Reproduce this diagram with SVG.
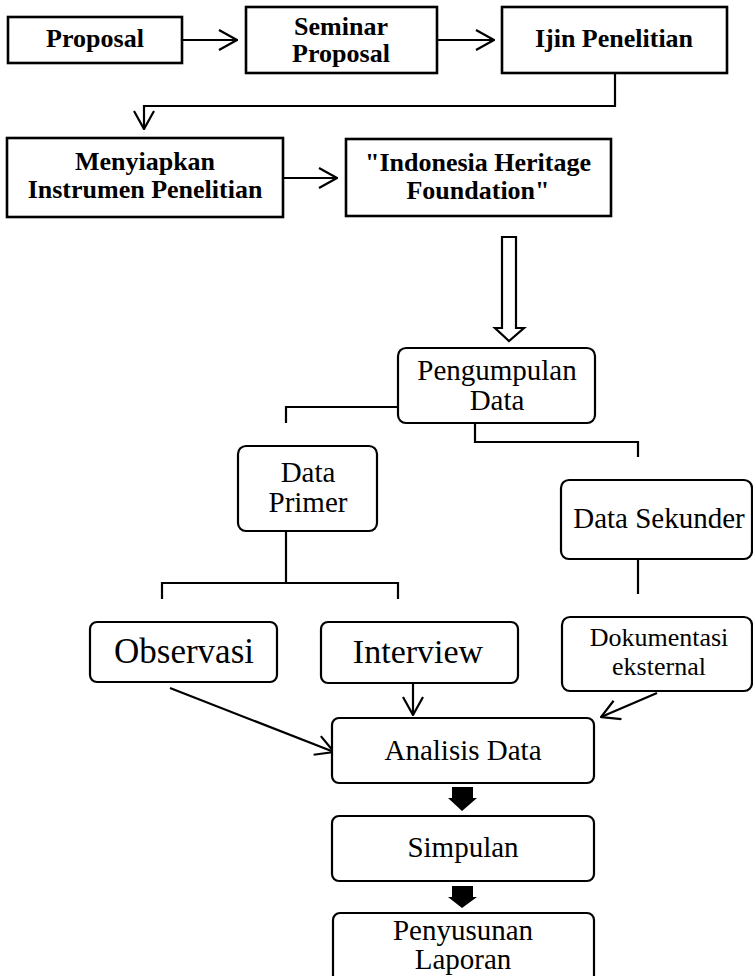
<svg xmlns="http://www.w3.org/2000/svg" width="753" height="976" viewBox="0 0 753 976">
<style>
.bx{fill:#fff;stroke:#000;stroke-width:2.6}
.rb{fill:#fff;stroke:#000;stroke-width:2.2}
.bt{font-family:"Liberation Serif",serif;font-weight:bold;font-size:26px;text-anchor:middle;fill:#000}
.rt{font-family:"Liberation Serif",serif;font-size:29px;text-anchor:middle;fill:#000}
.ln{fill:none;stroke:#000;stroke-width:2.2}
.fa{fill:none;stroke:#e2e2e2;stroke-width:2}
</style>
<defs>
<marker id="chev" viewBox="0 0 20 22" refX="19" refY="11" markerUnits="userSpaceOnUse" markerWidth="20" markerHeight="22" orient="auto">
<path d="M1,1 L19,11 L1,21" fill="none" stroke="#000" stroke-width="2.2"/>
</marker>
</defs>
<rect width="753" height="976" fill="#fff"/>
<g id="connectors">
<line class="ln" x1="182" y1="40" x2="237" y2="40" marker-end="url(#chev)"/>
<line class="ln" x1="437" y1="40" x2="494" y2="40" marker-end="url(#chev)"/>
<path class="ln" d="M615,73 V106 H144 V129" marker-end="url(#chev)"/>
<line class="ln" x1="283" y1="178" x2="337" y2="178" marker-end="url(#chev)"/>
<polygon points="502,237 516,237 516,328 524,328 509,341 495,328 502,328" fill="#fff" stroke="#000" stroke-width="2.2"/>
<path class="fa" d="M398,407 H475 V423"/>
<path class="ln" d="M398,407 H286 V423"/>
<path class="ln" d="M475,423 V442 H638 V457"/>
<path class="fa" d="M286,513 V531"/>
<path class="ln" d="M286,531 V583"/>
<path class="ln" d="M162,599 V583 H398 V599"/>
<path class="fa" d="M638,540 V559"/>
<path class="ln" d="M638,559 V594"/>
<line class="ln" x1="170" y1="688" x2="334" y2="752" marker-end="url(#chev)"/>
<line class="ln" x1="413" y1="684" x2="413" y2="715" marker-end="url(#chev)"/>
<line class="ln" x1="657" y1="693" x2="601" y2="717" marker-end="url(#chev)"/>
<polygon points="452,787 473,787 473,798 477,798 462,811 448,798 452,798" fill="#000"/>
<polygon points="452,886 473,886 473,897 477,897 462,908 448,897 452,897" fill="#000"/>
</g>
<g id="proposal"><rect class="bx" x="8" y="17" width="174" height="46"/><text class="bt" x="95" y="47">Proposal</text></g>
<g id="seminar"><rect class="bx" x="246" y="7" width="191" height="66"/><text class="bt" x="341" y="35">Seminar</text><text class="bt" x="341" y="62">Proposal</text></g>
<g id="ijin"><rect class="bx" x="502" y="7" width="225" height="66"/><text class="bt" x="614" y="47">Ijin Penelitian</text></g>
<g id="menyiapkan"><rect class="bx" x="7" y="138" width="276" height="79"/><text class="bt" x="145" y="170">Menyiapkan</text><text class="bt" x="145" y="198">Instrumen Penelitian</text></g>
<g id="ihf"><rect class="bx" x="346" y="139" width="265" height="77"/><text class="bt" x="478" y="171">"Indonesia Heritage</text><text class="bt" x="478" y="199">Foundation"</text></g>
<g id="pengumpulan"><rect class="rb" x="398" y="348" width="197" height="75" rx="8"/><text class="rt" x="497" y="380">Pengumpulan</text><text class="rt" x="497" y="410">Data</text></g>
<g id="primer"><rect class="rb" x="238" y="446" width="139" height="85" rx="8"/><text class="rt" x="308" y="482">Data</text><text class="rt" x="308" y="512">Primer</text></g>
<g id="sekunder"><rect class="rb" x="561" y="480" width="191" height="79" rx="8"/><text class="rt" x="659" y="528">Data Sekunder</text></g>
<g id="observasi"><rect class="rb" x="90" y="622" width="187" height="60" rx="7"/><text class="rt" x="184" y="663" style="font-size:35px">Observasi</text></g>
<g id="interview"><rect class="rb" x="321" y="622" width="197" height="61" rx="7"/><text class="rt" x="418" y="663" style="font-size:34px">Interview</text></g>
<g id="dokumentasi"><rect class="rb" x="562" y="617" width="190" height="74" rx="8"/><text class="rt" x="659" y="646" style="font-size:26px">Dokumentasi</text><text class="rt" x="659" y="675" style="font-size:26px">eksternal</text></g>
<g id="analisis"><rect class="rb" x="332" y="718" width="262" height="65" rx="7"/><text class="rt" x="463" y="760">Analisis Data</text></g>
<g id="simpulan"><rect class="rb" x="332" y="816" width="262" height="65" rx="7"/><text class="rt" x="463" y="857">Simpulan</text></g>
<g id="penyusunan"><rect class="rb" x="333" y="913" width="261" height="80" rx="7"/><text class="rt" x="463" y="940">Penyusunan</text><text class="rt" x="463" y="969">Laporan</text></g>
</svg>
